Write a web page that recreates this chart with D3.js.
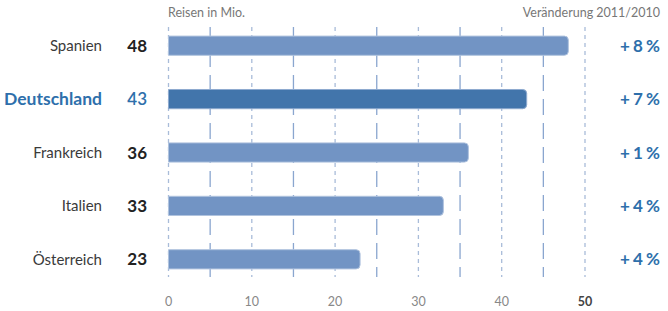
<!DOCTYPE html>
<html>
<head>
<meta charset="utf-8">
<script src="https://cdn.jsdelivr.net/npm/d3@7"></script>
<style>
  body { margin: 0; background: #fff; }
  svg text { font-family: Lato, "Open Sans", sans-serif; }
</style>
</head>
<body>
<div id="chart"></div>
<script>
// Reisen in Mio. und Veränderung 2011/2010
var countries = ["Spanien", "Deutschland", "Frankreich", "Italien", "Österreich"]
var trips = [48, 43, 36, 33, 23]
var changes = ["+ 8 %", "+ 7 %", "+ 1 %", "+ 4 %", "+ 4 %"]
var ticks = [0, 10, 20, 30, 40, 50]
var highlight = "Deutschland"

var svgSize = { width: 668, height: 311 }

var svg = d3.select("#chart").append("svg")
    .attr("width", svgSize.width)
    .attr("height", svgSize.height)

var xScale = d3.scaleLinear().domain([0, 50]).range([168.5, 585])
var yScale = d3.scaleBand().domain(countries).range([19, 286]).paddingInner(0.64).paddingOuter(0.32)

// grid lines
var gridTop = 27, gridBottom = 277
var grid = svg.append("g")
d3.range(0, 51, 5).forEach(v => {
    var major = v % 10 == 0
    grid.append("line")
        .attr("x1", xScale(v)).attr("x2", xScale(v))
        .attr("y1", gridTop).attr("y2", gridBottom)
        .attr("stroke", major ? "#a9bcd9" : "#8aa6cf")
        .attr("stroke-width", 1.3)
        .attr("stroke-dasharray", major ? "4,4" : "16,8")
})

// bars
svg.append("g").selectAll("path").data(countries).enter().append("path")
    .attr("d", (d, i) => {
        var x0 = xScale(0), x1 = xScale(trips[i]), y0 = yScale(d), h = yScale.bandwidth(), r = 4
        return `M${x0},${y0}H${x1 - r}Q${x1},${y0} ${x1},${y0 + r}V${y0 + h - r}Q${x1},${y0 + h} ${x1 - r},${y0 + h}H${x0}Z`
    })
    .attr("fill", d => d == highlight ? "#4275ab" : "#7294c4")
    .attr("stroke", d => d == highlight ? "#8eaacf" : "#b0c3de")
    .attr("stroke-width", 1)

var mid = d => yScale(d) + yScale.bandwidth() / 2

// country names
svg.append("g").selectAll("text").data(countries).enter().append("text")
    .attr("x", 102).attr("y", d => mid(d)).attr("dy", "0.35em")
    .attr("text-anchor", "end")
    .style("font-size", d => d == highlight ? "17.5px" : "15px")
    .style("font-weight", d => d == highlight ? "bold" : "normal")
    .style("fill", d => d == highlight ? "#2e6fab" : "#3a3a3a")
    .text(d => d)

// values
svg.append("g").selectAll("text").data(countries).enter().append("text")
    .attr("x", 147).attr("y", d => mid(d)).attr("dy", "0.36em")
    .attr("text-anchor", "end")
    .style("font-size", "17px")
    .style("font-weight", d => d == highlight ? "600" : "bold")
    .style("fill", d => d == highlight ? "#2e6fab" : "#222")
    .text((d, i) => trips[i])

// changes
svg.append("g").selectAll("text").data(countries).enter().append("text")
    .attr("x", 660).attr("y", d => mid(d)).attr("dy", "0.36em")
    .attr("text-anchor", "end")
    .style("font-size", "17px")
    .style("font-weight", "bold")
    .style("fill", "#2e6fab")
    .style("word-spacing", "-1px")
    .text((d, i) => changes[i])

// headers
svg.append("text").attr("x", 168).attr("y", 17)
    .style("font-size", "12.5px").style("fill", "#777")
    .text("Reisen in Mio.")
svg.append("text").attr("x", 660).attr("y", 17).attr("text-anchor", "end")
    .style("font-size", "12.5px").style("fill", "#777")
    .text("Veränderung 2011/2010")

// x axis labels
svg.append("g").selectAll("text").data(ticks).enter().append("text")
    .attr("x", d => xScale(d)).attr("y", 306)
    .attr("text-anchor", "middle")
    .style("font-size", "12.5px")
    .style("fill", d => d == 50 ? "#444" : "#888")
    .style("font-weight", d => d == 50 ? "bold" : "normal")
    .text(d => d)
</script>
</body>
</html>
